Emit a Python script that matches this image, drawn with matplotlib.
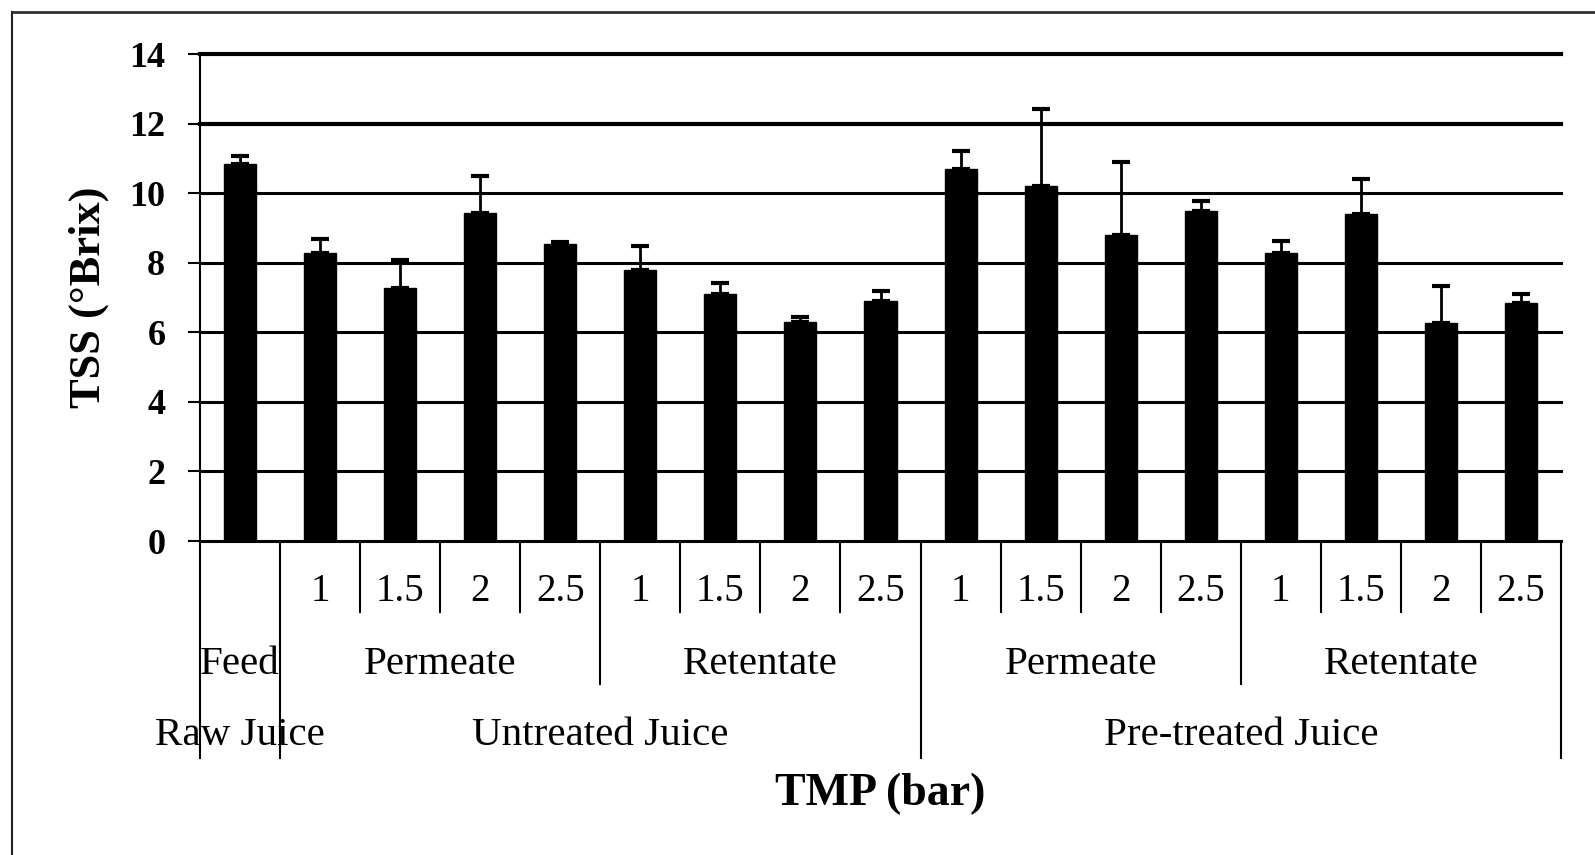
import matplotlib
matplotlib.use("Agg")
import matplotlib.pyplot as plt
from matplotlib.lines import Line2D
import matplotlib.transforms as mtransforms

# TSS readings per sample, in display order
tmp_labels = ["", "1", "1.5", "2", "2.5", "1", "1.5", "2", "2.5",
              "1", "1.5", "2", "2.5", "1", "1.5", "2", "2.5"]
tss_mean = [10.84, 8.28, 7.28, 9.42, 8.54, 7.80, 7.10, 6.30, 6.90,
            10.70, 10.21, 8.80, 9.50, 8.29, 9.40, 6.26, 6.85]
tss_err = [0.22, 0.39, 0.80, 1.07, 0.05, 0.68, 0.33, 0.15, 0.28,
           0.50, 2.22, 2.09, 0.28, 0.33, 1.00, 1.07, 0.25]

stream_labels = ["Feed", "Permeate", "Retentate", "Permeate", "Retentate"]
stream_spans = [1, 4, 4, 4, 4]
juice_labels = ["Raw Juice", "Untreated Juice", "Pre-treated Juice"]
juice_spans = [1, 8, 8]

y_ticks = [0, 2, 4, 6, 8, 10, 12, 14]

plt.rcParams["font.family"] = ["Liberation Serif", "DejaVu Serif"]

W, H = 1595, 855
fig = plt.figure(figsize=(W / 100, H / 100), dpi=100)
ax_left, ax_right, ax_top, ax_bot = 200, 1561, 54, 541
ax = fig.add_axes([ax_left / W, 1 - ax_bot / H,
                   (ax_right - ax_left) / W, (ax_bot - ax_top) / H])

n = len(tss_mean)
xs = [i + 0.5 for i in range(n)]

# horizontal grid lines (upper two drawn heavier)
for v in y_ticks:
    ax.axhline(v, color="black", lw=3.0 if v >= 12 else 2.2, zorder=1,
               clip_on=False)

ax.bar(xs, tss_mean, width=0.4, color="black", edgecolor="black", zorder=3)
ax.errorbar(xs, tss_mean, yerr=[[0] * n, tss_err], fmt="none",
            ecolor="black", elinewidth=2, capsize=6.5, capthick=3, zorder=4)

ax.set_xlim(0, n)
ax.set_ylim(0, 14)
ax.set_xticks([])
ax.set_yticks(y_ticks)
ax.set_yticklabels([str(v) for v in y_ticks], fontsize=26, fontweight="bold")
ax.tick_params(axis="y", length=9, width=1.5, pad=16, direction="out")
for s in ["top", "right", "bottom"]:
    ax.spines[s].set_visible(False)
ax.spines["left"].set_linewidth(1.5)

ax.set_ylabel("TSS (°Brix)", fontsize=32, fontweight="bold")
ax.yaxis.set_label_coords(-0.067, 0.5)

# hierarchical category axis below the plot
trans = mtransforms.blended_transform_factory(ax.transData, ax.transAxes)
lvl1_y, lvl2_y, lvl3_y = -0.104, -0.254, -0.400
lvl1_end, lvl2_end, lvl3_end = -0.146, -0.294, -0.446


def vline(x, y_end):
    ax.add_line(Line2D([x, x], [0, y_end], transform=trans, color="black",
                       lw=1.5, clip_on=False))


for i, lab in enumerate(tmp_labels):
    ax.text(i + 0.5, lvl1_y, lab, transform=trans, ha="center", va="center",
            fontsize=28)

juice_bounds = [0]
for s in juice_spans:
    juice_bounds.append(juice_bounds[-1] + s)
stream_bounds = [0]
for s in stream_spans:
    stream_bounds.append(stream_bounds[-1] + s)

for b in range(n + 1):
    if b in juice_bounds:
        vline(b, lvl3_end)
    elif b in stream_bounds:
        vline(b, lvl2_end)
    else:
        vline(b, lvl1_end)

for lab, a, b in zip(stream_labels, stream_bounds[:-1], stream_bounds[1:]):
    ax.text((a + b) / 2, lvl2_y, lab, transform=trans, ha="center",
            va="center", fontsize=29.5)
for lab, a, b in zip(juice_labels, juice_bounds[:-1], juice_bounds[1:]):
    ax.text((a + b) / 2, lvl3_y, lab, transform=trans, ha="center",
            va="center", fontsize=29.5)

fig.text(880 / W, 1 - 794 / H, "TMP (bar)", ha="center", va="center",
         fontsize=33, fontweight="bold")

# outer frame (top and left edges)
fig.add_artist(Line2D([12 / W, 1], [1 - 12 / H, 1 - 12 / H],
                      transform=fig.transFigure, color="#333333", lw=2))
fig.add_artist(Line2D([12 / W, 12 / W], [1 - 12 / H, 0],
                      transform=fig.transFigure, color="#222222", lw=1.5))

fig.savefig("out.png", dpi=100, facecolor="white")
